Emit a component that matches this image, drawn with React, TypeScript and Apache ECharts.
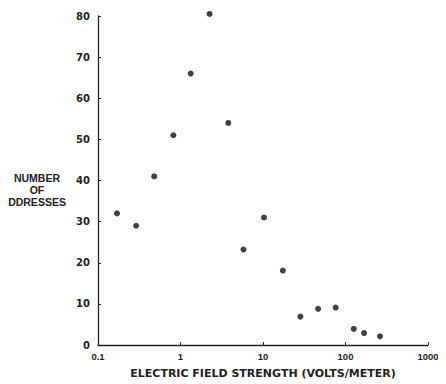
import React, { useEffect, useRef } from "react";
import * as echarts from "echarts";

const fieldStrength = [0.17, 0.29, 0.48, 0.82, 1.33, 2.25, 3.8, 5.8, 10.3, 17.4, 28.4, 46.6, 76, 126, 168, 262];
const addressCount = [32, 29, 41, 51, 66, 80.5, 54, 23.2, 31, 18.1, 6.9, 8.8, 9.1, 3.9, 2.9, 2.1];
const yLabelLines = ["NUMBER", "OF", "DDRESSES"];
const xTitle = "ELECTRIC FIELD STRENGTH (VOLTS/METER)";

export default function App() {
  const ref = useRef<HTMLDivElement>(null);
  useEffect(() => {
    if (!ref.current) return;
    const chart = echarts.init(ref.current, null, { renderer: "svg" });
    const font = "DejaVu Sans";
    const tickFont = "Liberation Sans";
    const ink = "#222";
    chart.setOption({
      animation: false,
      backgroundColor: "#fff",
      grid: { left: 98, right: 18, top: 16, bottom: 33, containLabel: false },
      xAxis: {
        type: "log",
        logBase: 10,
        min: 0.1,
        max: 1000,
        axisLine: { lineStyle: { color: ink, width: 1.3 } },
        axisTick: { inside: true, length: 3, lineStyle: { color: ink } },
        minorTick: { show: false },
        splitLine: { show: false },
        axisLabel: {
          color: ink,
          fontFamily: tickFont,
          fontWeight: "bold",
          fontSize: 9.5,
          margin: 6,
          formatter: (v: number) => String(v),
        },
        name: xTitle,
        nameLocation: "middle",
        nameGap: 23,
        nameTextStyle: { color: ink, fontFamily: font, fontWeight: "bold", fontSize: 11 },
      },
      yAxis: {
        type: "value",
        min: 0,
        max: 80,
        interval: 10,
        axisLine: { show: true, lineStyle: { color: ink, width: 1.3 } },
        axisTick: { show: true, inside: true, length: 3, lineStyle: { color: ink } },
        splitLine: { show: false },
        axisLabel: { color: ink, fontFamily: font, fontWeight: "bold", fontSize: 10, margin: 8 },
      },
      graphic: yLabelLines.map((t, i) => ({
        type: "text",
        x: 37,
        y: 178 + i * 12,
        style: {
          text: t,
          fill: ink,
          font: `bold 10.5px '${tickFont}'`,
          textAlign: "center",
          textVerticalAlign: "middle",
        },
      })),
      series: [
        {
          type: "scatter",
          clip: false,
          data: fieldStrength.map((x, i) => [x, addressCount[i]]),
          symbol: "circle",
          symbolSize: 6,
          itemStyle: { color: "#111" },
        },
      ],
    });
    return () => chart.dispose();
  }, []);
  return <div ref={ref} style={{ width: 446, height: 384, marginLeft: -8, marginTop: -8 }} />;
}
